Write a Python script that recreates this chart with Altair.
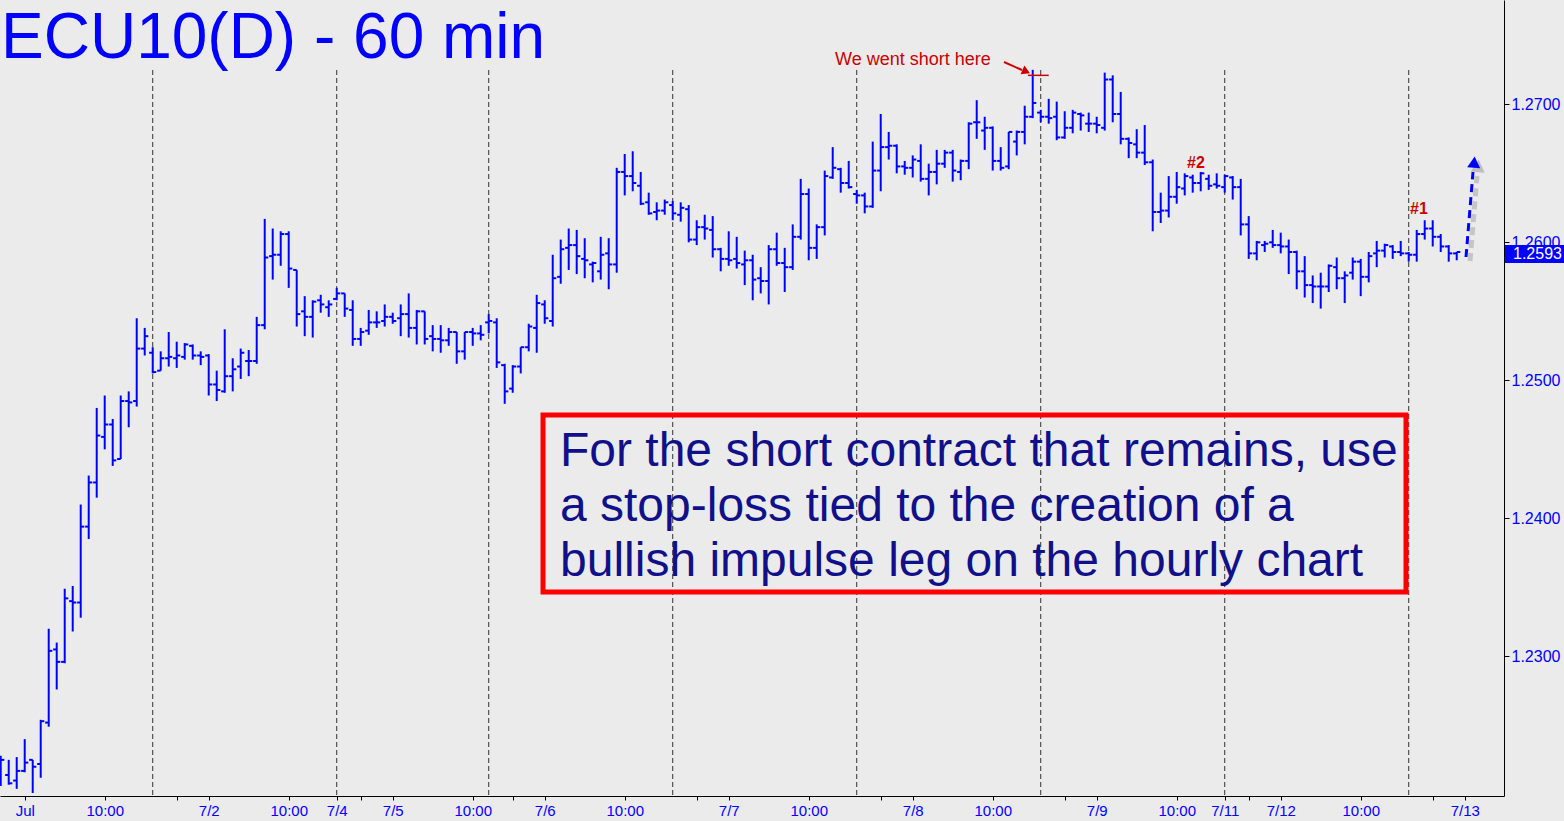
import altair as alt
import pandas as pd

# Hourly OHLC bars, ECU10 (euro FX, Sept contract), 30 Jun evening -> 12 Jul
opens = [
    1.2218, 1.2214, 1.2210, 1.2217, 1.2225, 1.2222, 1.2252, 1.2305, 1.2296, 1.2340,
    1.2339, 1.2394, 1.2426, 1.2459, 1.2468, 1.2443, 1.2485, 1.2485, 1.2523, 1.2520,
    1.2507, 1.2516, 1.2516, 1.2517, 1.2525, 1.2518, 1.2518, 1.2497, 1.2492, 1.2503,
    1.2510, 1.2514, 1.2514, 1.2540, 1.2590, 1.2591, 1.2606, 1.2580, 1.2550, 1.2546,
    1.2558, 1.2553, 1.2559, 1.2563, 1.2551, 1.2530, 1.2536, 1.2542, 1.2543, 1.2546,
    1.2545, 1.2548, 1.2538, 1.2550, 1.2532, 1.2530, 1.2529, 1.2535, 1.2521, 1.2535,
    1.2534, 1.2542, 1.2542, 1.2511, 1.2494, 1.2510, 1.2524, 1.2538, 1.2555, 1.2543,
    1.2575, 1.2596, 1.2598, 1.2588, 1.2584, 1.2579, 1.2592, 1.2584, 1.2651, 1.2648,
    1.2641, 1.2629, 1.2622, 1.2623, 1.2627, 1.2620, 1.2624, 1.2602, 1.2611, 1.2609,
    1.2595, 1.2588, 1.2588, 1.2584, 1.2587, 1.2574, 1.2572, 1.2595, 1.2585, 1.2582,
    1.2604, 1.2635, 1.2596, 1.2611, 1.2647, 1.2653, 1.2643, 1.2635, 1.2634, 1.2626,
    1.2652, 1.2669, 1.2670, 1.2655, 1.2654, 1.2659, 1.2646, 1.2651, 1.2657, 1.2665,
    1.2651, 1.2659, 1.2687, 1.2681, 1.2683, 1.2659, 1.2655, 1.2673, 1.2680, 1.2691,
    1.2694, 1.2691, 1.2691, 1.2676, 1.2683, 1.2693, 1.2686, 1.2686, 1.2683, 1.2718,
    1.2693, 1.2675, 1.2671, 1.2665, 1.2658, 1.2622, 1.2623, 1.2633, 1.2639, 1.2647,
    1.2643, 1.2646, 1.2642, 1.2640, 1.2647, 1.2640, 1.2613, 1.2592, 1.2598, 1.2600,
    1.2598, 1.2597, 1.2593, 1.2579, 1.2569, 1.2568, 1.2568, 1.2582, 1.2574, 1.2578,
    1.2586, 1.2575, 1.2592, 1.2594, 1.2597, 1.2593, 1.2592, 1.2591, 1.2606, 1.2610,
    1.2604, 1.2597, 1.2592,
]
highs = [
    1.2228, 1.2225, 1.2227, 1.2240, 1.2225, 1.2254, 1.2320, 1.2310, 1.2349, 1.2351,
    1.2410, 1.2431, 1.2480, 1.2489, 1.2472, 1.2489, 1.2492, 1.2545, 1.2538, 1.2524,
    1.2521, 1.2535, 1.2528, 1.2527, 1.2526, 1.2521, 1.2519, 1.2507, 1.2537, 1.2516,
    1.2523, 1.2522, 1.2546, 1.2617, 1.2610, 1.2608, 1.2608, 1.2580, 1.2561, 1.2558,
    1.2562, 1.2558, 1.2567, 1.2563, 1.2558, 1.2538, 1.2551, 1.2550, 1.2555, 1.2549,
    1.2555, 1.2563, 1.2551, 1.2550, 1.2540, 1.2540, 1.2538, 1.2535, 1.2535, 1.2538,
    1.2540, 1.2548, 1.2545, 1.2512, 1.2511, 1.2524, 1.2541, 1.2562, 1.2558, 1.2591,
    1.2602, 1.2610, 1.2609, 1.2603, 1.2586, 1.2604, 1.2603, 1.2654, 1.2664, 1.2666,
    1.2651, 1.2636, 1.2629, 1.2631, 1.2630, 1.2629, 1.2627, 1.2616, 1.2620, 1.2619,
    1.2596, 1.2608, 1.2604, 1.2594, 1.2591, 1.2582, 1.2598, 1.2607, 1.2596, 1.2613,
    1.2646, 1.2639, 1.2613, 1.2652, 1.2669, 1.2654, 1.2659, 1.2638, 1.2636, 1.2673,
    1.2693, 1.2680, 1.2671, 1.2659, 1.2663, 1.2671, 1.2657, 1.2667, 1.2667, 1.2667,
    1.2660, 1.2687, 1.2703, 1.2691, 1.2684, 1.2669, 1.2680, 1.2681, 1.2699, 1.2725,
    1.2696, 1.2704, 1.2702, 1.2695, 1.2696, 1.2694, 1.2694, 1.2691, 1.2723, 1.2721,
    1.2709, 1.2676, 1.2682, 1.2685, 1.2660, 1.2636, 1.2648, 1.2651, 1.2650, 1.2649,
    1.2651, 1.2649, 1.2650, 1.2649, 1.2648, 1.2646, 1.2619, 1.2601, 1.2601, 1.2609,
    1.2607, 1.2602, 1.2594, 1.2590, 1.2576, 1.2578, 1.2584, 1.2589, 1.2579, 1.2589,
    1.2588, 1.2593, 1.2601, 1.2599, 1.2598, 1.2601, 1.2593, 1.2609, 1.2616, 1.2616,
    1.2606, 1.2598, 1.2593,
]
lows = [
    1.2206, 1.2207, 1.2204, 1.2216, 1.2201, 1.2212, 1.2249, 1.2276, 1.2295, 1.2318,
    1.2328, 1.2385, 1.2415, 1.2450, 1.2438, 1.2443, 1.2466, 1.2481, 1.2518, 1.2505,
    1.2507, 1.2510, 1.2509, 1.2515, 1.2515, 1.2511, 1.2489, 1.2485, 1.2491, 1.2492,
    1.2501, 1.2503, 1.2512, 1.2537, 1.2573, 1.2583, 1.2567, 1.2539, 1.2532, 1.2531,
    1.2549, 1.2546, 1.2558, 1.2546, 1.2525, 1.2525, 1.2533, 1.2538, 1.2539, 1.2541,
    1.2532, 1.2531, 1.2526, 1.2526, 1.2521, 1.2520, 1.2525, 1.2512, 1.2515, 1.2525,
    1.2529, 1.2534, 1.2509, 1.2483, 1.2491, 1.2505, 1.2521, 1.2520, 1.2541, 1.2539,
    1.2570, 1.2580, 1.2577, 1.2574, 1.2571, 1.2573, 1.2566, 1.2578, 1.2634, 1.2637,
    1.2627, 1.2620, 1.2616, 1.2620, 1.2616, 1.2615, 1.2600, 1.2598, 1.2602, 1.2589,
    1.2579, 1.2583, 1.2581, 1.2569, 1.2558, 1.2563, 1.2555, 1.2583, 1.2564, 1.2580,
    1.2602, 1.2587, 1.2588, 1.2605, 1.2646, 1.2636, 1.2639, 1.2628, 1.2621, 1.2625,
    1.2637, 1.2660, 1.2650, 1.2649, 1.2647, 1.2644, 1.2634, 1.2642, 1.2654, 1.2644,
    1.2645, 1.2653, 1.2675, 1.2667, 1.2652, 1.2652, 1.2653, 1.2663, 1.2671, 1.2690,
    1.2687, 1.2686, 1.2674, 1.2675, 1.2679, 1.2681, 1.2680, 1.2679, 1.2681, 1.2687,
    1.2671, 1.2661, 1.2661, 1.2656, 1.2608, 1.2614, 1.2618, 1.2628, 1.2634, 1.2636,
    1.2637, 1.2638, 1.2639, 1.2636, 1.2631, 1.2605, 1.2588, 1.2587, 1.2593, 1.2596,
    1.2592, 1.2577, 1.2566, 1.2560, 1.2556, 1.2552, 1.2564, 1.2566, 1.2556, 1.2573,
    1.2561, 1.2571, 1.2582, 1.2589, 1.2588, 1.2590, 1.2586, 1.2586, 1.2602, 1.2597,
    1.2593, 1.2586, 1.2587,
]
closes = [
    1.2225, 1.2208, 1.2217, 1.2223, 1.2220, 1.2253, 1.2304, 1.2296, 1.2342, 1.2339,
    1.2394, 1.2426, 1.2460, 1.2468, 1.2442, 1.2485, 1.2484, 1.2523, 1.2532, 1.2506,
    1.2516, 1.2517, 1.2518, 1.2526, 1.2518, 1.2517, 1.2497, 1.2493, 1.2503, 1.2508,
    1.2520, 1.2514, 1.2540, 1.2589, 1.2591, 1.2606, 1.2581, 1.2548, 1.2546, 1.2557,
    1.2555, 1.2555, 1.2563, 1.2552, 1.2530, 1.2535, 1.2542, 1.2542, 1.2546, 1.2543,
    1.2548, 1.2538, 1.2550, 1.2530, 1.2530, 1.2529, 1.2535, 1.2521, 1.2535, 1.2534,
    1.2533, 1.2543, 1.2513, 1.2492, 1.2510, 1.2524, 1.2539, 1.2556, 1.2545, 1.2574,
    1.2595, 1.2598, 1.2590, 1.2587, 1.2585, 1.2591, 1.2584, 1.2651, 1.2648, 1.2643,
    1.2628, 1.2621, 1.2623, 1.2629, 1.2621, 1.2625, 1.2602, 1.2611, 1.2610, 1.2595,
    1.2588, 1.2587, 1.2585, 1.2587, 1.2573, 1.2572, 1.2595, 1.2585, 1.2582, 1.2604,
    1.2635, 1.2596, 1.2611, 1.2648, 1.2654, 1.2643, 1.2640, 1.2634, 1.2626, 1.2652,
    1.2669, 1.2670, 1.2655, 1.2654, 1.2660, 1.2646, 1.2651, 1.2657, 1.2665, 1.2652,
    1.2659, 1.2686, 1.2687, 1.2683, 1.2659, 1.2654, 1.2680, 1.2680, 1.2691, 1.2701,
    1.2691, 1.2690, 1.2676, 1.2683, 1.2694, 1.2692, 1.2686, 1.2685, 1.2718, 1.2693,
    1.2675, 1.2672, 1.2665, 1.2658, 1.2622, 1.2623, 1.2633, 1.2640, 1.2648, 1.2643,
    1.2650, 1.2641, 1.2641, 1.2648, 1.2640, 1.2613, 1.2592, 1.2600, 1.2599, 1.2598,
    1.2597, 1.2593, 1.2579, 1.2569, 1.2568, 1.2568, 1.2583, 1.2574, 1.2576, 1.2586,
    1.2575, 1.2590, 1.2594, 1.2598, 1.2593, 1.2592, 1.2591, 1.2606, 1.2610, 1.2604,
    1.2597, 1.2592, 1.2593,
]

# Session starts (first bar after the daily break) -> dashed separators
session_starts = [19, 42, 61, 84, 107, 130, 153, 176]
# Time-axis labels keyed by bar index, plus unlabeled minor ticks
time_labels = {
    3: "Jul", 13: "10:00", 26: "7/2", 36: "10:00", 42: "7/4", 49: "7/5",
    59: "10:00", 68: "7/6", 78: "10:00", 91: "7/7", 101: "10:00", 114: "7/8",
    124: "10:00", 137: "7/9", 147: "10:00", 153: "7/11", 160: "7/12",
    170: "10:00", 183: "7/13",
}
minor_ticks = [22, 45, 64, 87, 110, 133, 156, 179]
price_ticks = [1.23, 1.24, 1.25, 1.26, 1.27]

title_text = "ECU10(D) - 60 min"
note_lines = [
    "For the short contract that remains, use",
    "a stop-loss tied to the creation of a",
    "bullish impulse leg on the hourly chart",
]
short_note = "We went short here"
short_level = {"x0": 128.4, "x1": 131.0, "price": 1.2721}

W, H = 1504, 796
BLUE = "#0000ff"
RED = "#cc0000"
BG = "#ebebeb"
FONT = "Liberation Sans"

df = pd.DataFrame({
    "bar": list(range(len(opens))),
    "open": opens, "high": highs, "low": lows, "close": closes,
})
last = pd.DataFrame({"close": [closes[-1]]})
sessions = pd.DataFrame({"bar": session_starts})
short_df = pd.DataFrame([short_level])

xs = alt.Scale(domain=[-0.09, 187.91], nice=False, zero=False)
ys = alt.Scale(domain=[1.21988, 1.27756], nice=False, zero=False)

label_expr = " : ".join(
    f"datum.value == {k} ? '{v}'" for k, v in time_labels.items()
) + " : ''"

x_axis = alt.Axis(
    orient="bottom", values=sorted(list(time_labels) + minor_ticks),
    labelExpr=label_expr, title=None, grid=False, tickSize=4,
    tickColor="black", domainColor="black", labelColor=BLUE,
    labelFontSize=15, labelFont=FONT, labelPadding=3,
    labelOverlap=False, labelFlush=False,
)
y_axis = alt.Axis(
    orient="right", values=price_ticks, format=".4f", title=None, grid=False,
    tickSize=5, tickColor="black", domainColor="black", labelColor=BLUE,
    labelFontSize=16, labelFont=FONT, labelPadding=2,
)


def xq(field):
    return alt.X(field, type="quantitative", scale=xs, axis=x_axis)


def yq(field):
    return alt.Y(field, type="quantitative", scale=ys, axis=y_axis)


base = alt.Chart(df)

# session separators
seps = alt.Chart(sessions).mark_rule(
    color="#333333", strokeDash=[5, 3], strokeWidth=1
).encode(x=xq("bar"), y=alt.value(70), y2=alt.value(H))

ranges = base.mark_rule(color=BLUE, strokeWidth=2).encode(
    x=xq("bar"), y=yq("low"), y2="high:Q",
)
open_ticks = base.transform_calculate(
    xl="datum.bar - 0.45"
).mark_rule(color=BLUE, strokeWidth=2).encode(
    x=xq("xl"), x2="bar:Q", y=yq("open"),
)
close_ticks = base.transform_calculate(
    xr="datum.bar + 0.45"
).mark_rule(color=BLUE, strokeWidth=2).encode(
    x=xq("bar"), x2="xr:Q", y=yq("close"),
)

# entry level of the short
short_rule = alt.Chart(short_df).mark_rule(color=RED, strokeWidth=1.5).encode(
    x=xq("x0"), x2="x1:Q", y=yq("price"),
)

title = alt.Chart(pd.DataFrame({"t": [title_text]})).mark_text(
    align="left", baseline="alphabetic", fontSize=64, font=FONT, color=BLUE
).encode(text="t:N", x=alt.value(1), y=alt.value(58))

note_box = alt.Chart(pd.DataFrame({"a": [0]})).mark_rect(
    fill=BG, fillOpacity=0, stroke="#ff0000", strokeWidth=5
).encode(x=alt.value(543), x2=alt.value(1406), y=alt.value(415), y2=alt.value(592))

note_texts = []
for k, line in enumerate(note_lines):
    note_texts.append(
        alt.Chart(pd.DataFrame({"t": [line]})).mark_text(
            align="left", baseline="alphabetic", fontSize=48, font=FONT,
            color="#10108a",
        ).encode(text="t:N", x=alt.value(560), y=alt.value(466 + 55 * k))
    )

short_label = alt.Chart(pd.DataFrame({"t": [short_note]})).mark_text(
    align="left", baseline="alphabetic", fontSize=18, font=FONT, color=RED
).encode(text="t:N", x=alt.value(835), y=alt.value(65))
short_arrow = alt.Chart(pd.DataFrame({"a": [0]})).mark_rule(
    color=RED, strokeWidth=2
).encode(x=alt.value(1004), x2=alt.value(1022), y=alt.value(62), y2=alt.value(70))
short_head = alt.Chart(pd.DataFrame({"a": [0]})).mark_point(
    shape="triangle", filled=True, color=RED, size=90, angle=114, opacity=1
).encode(x=alt.value(1025), y=alt.value(71))

num2 = alt.Chart(pd.DataFrame({"t": ["#2"]})).mark_text(
    align="center", baseline="alphabetic", fontSize=16, fontWeight="bold",
    font=FONT, color=RED
).encode(text="t:N", x=alt.value(1196), y=alt.value(168))
num1 = alt.Chart(pd.DataFrame({"t": ["#1"]})).mark_text(
    align="center", baseline="alphabetic", fontSize=16, fontWeight="bold",
    font=FONT, color=RED
).encode(text="t:N", x=alt.value(1419), y=alt.value(214))

# projected upside arrow with a soft shadow
arrow_shadow = alt.Chart(pd.DataFrame({"a": [0]})).mark_rule(
    color="#555555", opacity=0.25, strokeWidth=5, strokeDash=[8, 5]
).encode(x=alt.value(1470), x2=alt.value(1477), y=alt.value(261), y2=alt.value(176))
head_shadow = alt.Chart(pd.DataFrame({"a": [0]})).mark_point(
    shape="triangle", filled=True, color="#555555", opacity=0.3, size=200, angle=5
).encode(x=alt.value(1478), y=alt.value(168))
arrow_line = alt.Chart(pd.DataFrame({"a": [0]})).mark_rule(
    color=BLUE, strokeWidth=3, strokeDash=[8, 5]
).encode(x=alt.value(1466), x2=alt.value(1473), y=alt.value(257), y2=alt.value(172))
arrow_head = alt.Chart(pd.DataFrame({"a": [0]})).mark_point(
    shape="triangle", filled=True, color=BLUE, opacity=1, size=170, angle=5
).encode(x=alt.value(1474), y=alt.value(164))

# last-price tag on the price axis
tag = alt.Chart(last).mark_rule(color=BLUE, strokeWidth=18, yOffset=2).encode(
    x=alt.value(W + 1), x2=alt.value(W + 60), y=yq("close"),
)
tag_text = alt.Chart(last).mark_text(
    align="left", baseline="middle", fontSize=16, font=FONT, color="white",
    yOffset=2,
).encode(
    x=alt.value(W + 9), y=yq("close"),
    text=alt.Text("close:Q", format=".4f"),
)

chart = alt.layer(
    seps, ranges, open_ticks, close_ticks, short_rule, title, note_box,
    *note_texts, short_label, short_arrow, short_head, num2, num1,
    arrow_shadow, head_shadow, arrow_line, arrow_head, tag, tag_text,
).properties(
    width=W, height=H, background=BG,
    padding={"left": 0, "top": 0, "right": 60, "bottom": 25},
    autosize=alt.AutoSizeParams(type="none"),
).configure_view(stroke=None)

chart.save("out.html", embed_options={"renderer": "svg", "actions": False})
